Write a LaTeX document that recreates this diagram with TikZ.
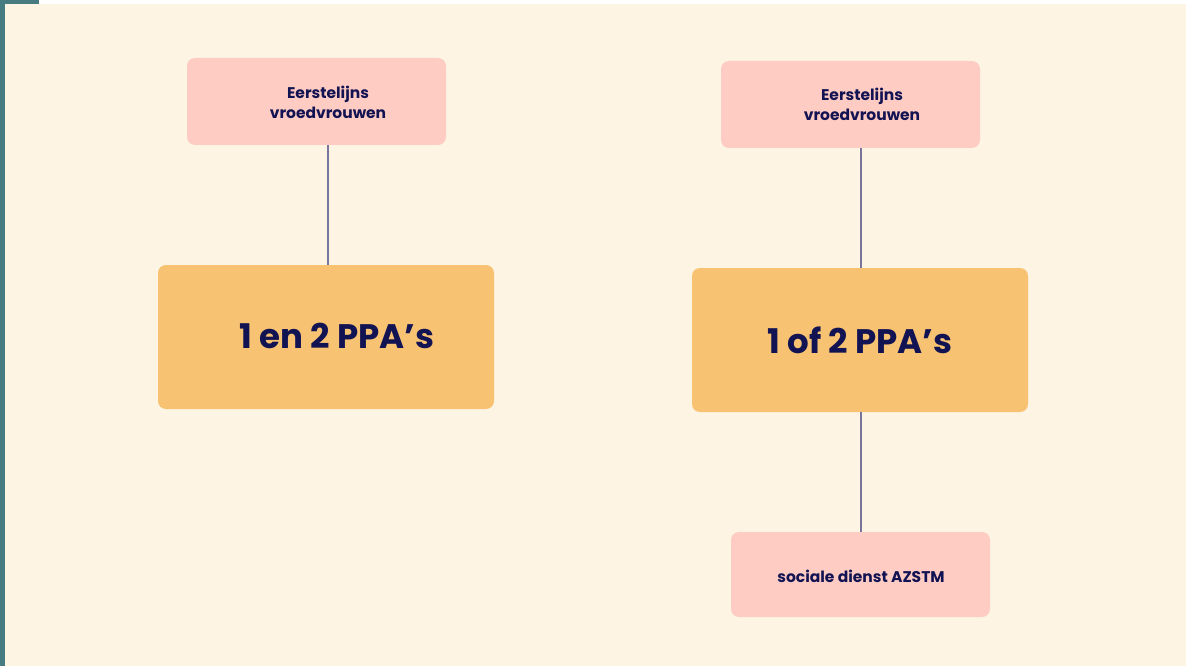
\documentclass[tikz,border=0pt]{standalone}
\usepackage{fontspec}
\setmainfont{Poppins}
\definecolor{cream}{HTML}{FEF4E3}
\definecolor{teal}{HTML}{467B82}
\definecolor{pinkbox}{HTML}{FFCCC4}
\definecolor{orangebox}{HTML}{F7C272}
\definecolor{navy}{HTML}{121352}
\definecolor{linec}{HTML}{77759A}
\tikzset{
  pinkstyle/.style={fill=pinkbox, draw=none, rounded corners=8pt},
  orangestyle/.style={fill=orangebox, draw=none, rounded corners=8pt},
  smalltext/.style={text=navy, font=\fontsize{15.5}{20}\selectfont\bfseries, align=center, inner sep=0pt},
  bigtext/.style={text=navy, font=\fontsize{34}{38}\selectfont\bfseries, inner sep=0pt},
  conn/.style={draw=linec, line width=2.4pt},
}
\begin{document}
\begin{tikzpicture}[x=1pt,y=-1pt]
\useasboundingbox (0,0) rectangle (1186,666);
\fill[white] (0,0) rectangle (1186,666);
\fill[cream] (5,4) rectangle (1186,666);
\fill[teal] (0,0) rectangle (5,666);
\fill[teal] (0,0) rectangle (39,4);
% left column
\path[pinkstyle] (187,58) rectangle (446,145);
\path[orangestyle] (158,265) rectangle (494,409);
\node[smalltext] (t1) at (328,102) {Eerstelijns\\vroedvrouwen};
\node[bigtext] (b1) at (337,336) {1 en 2 PPA’s};
\coordinate (l1a) at (328,145);
\coordinate (l1b) at (328,265);
\draw[conn] (l1a) -- (l1b);
% right column
\path[pinkstyle] (721,61) rectangle (980,148);
\node[smalltext] (t2) at (862,104) {Eerstelijns\\vroedvrouwen};
\path[orangestyle] (692,268) rectangle (1028,412);
\node[bigtext] (b2) at (860,340) {1 of 2 PPA’s};
\path[pinkstyle] (731,532) rectangle (990,617);
\node[smalltext] (t3) at (861,576) {sociale dienst AZSTM};
\coordinate (l2a) at (861,148);
\coordinate (l2b) at (861,268);
\coordinate (l3a) at (861,412);
\coordinate (l3b) at (861,532);
\draw[conn] (l2a) -- (l2b);
\draw[conn] (l3a) -- (l3b);
\end{tikzpicture}
\end{document}
